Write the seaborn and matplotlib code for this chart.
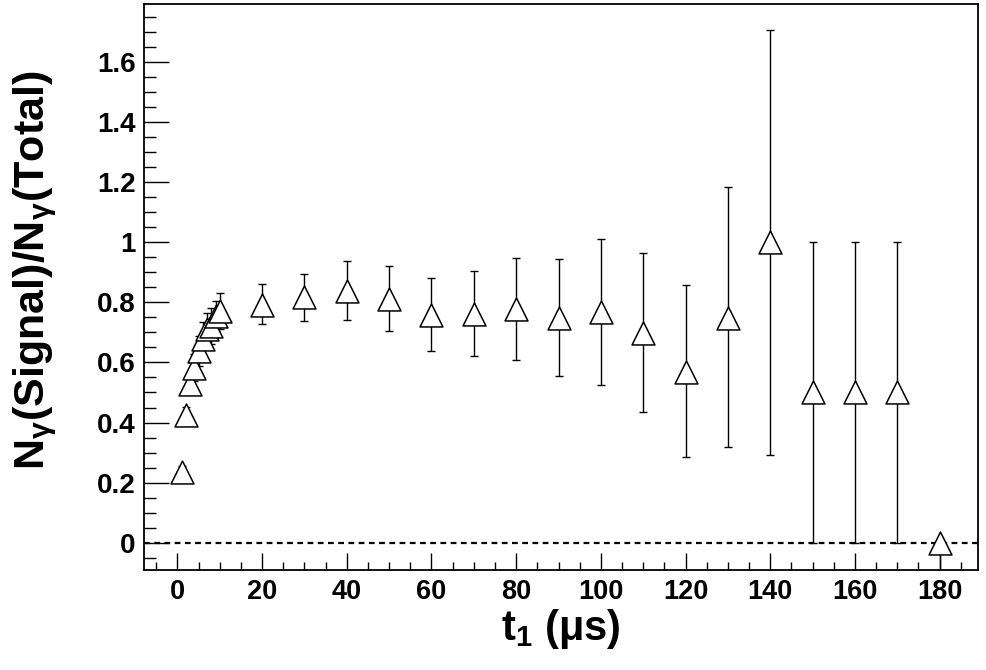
import numpy as np
import pandas as pd
import matplotlib
matplotlib.use("Agg")
import matplotlib.pyplot as plt
from matplotlib.ticker import MultipleLocator, FuncFormatter
import seaborn as sns

# ---- data ----
t_us = [1, 2, 3, 4, 5, 6, 7, 8, 9, 10,
        20, 30, 40, 50, 60, 70, 80, 90, 100,
        110, 120, 130, 140, 150, 160, 170, 180]
ratio = [0.234, 0.426, 0.529, 0.583, 0.638, 0.678, 0.711, 0.722, 0.755, 0.770,
         0.792, 0.816, 0.837, 0.810, 0.758, 0.761, 0.776, 0.748, 0.768,
         0.698, 0.569, 0.748, 1.000, 0.500, 0.500, 0.500, 0.000]
err_up = [0.02, 0.025, 0.035, 0.045, 0.05, 0.055, 0.055, 0.06, 0.05, 0.06,
          0.068, 0.079, 0.099, 0.109, 0.124, 0.143, 0.171, 0.195, 0.243,
          0.266, 0.287, 0.434, 0.705, 0.500, 0.500, 0.500, 0.0]
err_dn = [0.02, 0.025, 0.035, 0.045, 0.05, 0.055, 0.055, 0.06, 0.05, 0.06,
          0.064, 0.077, 0.096, 0.107, 0.121, 0.140, 0.168, 0.192, 0.242,
          0.262, 0.283, 0.431, 0.708, 0.500, 0.500, 0.500, 0.20]

xticks = [0, 20, 40, 60, 80, 100, 120, 140, 160, 180]
yticks = [0, 0.2, 0.4, 0.6, 0.8, 1.0, 1.2, 1.4, 1.6]

df = pd.DataFrame({"t": t_us, "r": ratio})

sns.set_theme(style="ticks")
plt.rcParams["font.family"] = ["Liberation Sans", "DejaVu Sans"]
plt.rcParams["font.weight"] = "bold"
plt.rcParams["mathtext.fontset"] = "custom"
plt.rcParams["mathtext.rm"] = "Liberation Sans"
plt.rcParams["mathtext.it"] = "Liberation Sans"
plt.rcParams["mathtext.bf"] = "Liberation Sans:bold"
for k in ["text.color", "axes.labelcolor", "xtick.color", "ytick.color",
          "axes.edgecolor"]:
    plt.rcParams[k] = "black"

fig = plt.figure(figsize=(9.86, 6.70), dpi=100)
ax = fig.add_axes([0.146, 0.149, 0.9916 - 0.146, 0.994 - 0.149])

ax.set_xlim(-7.9, 189)
ax.set_ylim(-0.091, 1.792)

# zero reference line
ax.axhline(0, color="black", lw=1.6, ls=(0, (2.6, 2.0)), zorder=1)

ax.errorbar(t_us, ratio, yerr=[err_dn, err_up], fmt="none",
            ecolor="black", elinewidth=1.0, capsize=2.6, capthick=1.0,
            zorder=2)
sns.scatterplot(data=df, x="t", y="r", ax=ax, marker="^", s=16.5 ** 2,
                facecolor="white", edgecolor="black", linewidth=1.1,
                zorder=3, legend=False)

ax.set_xticks(xticks)
ax.set_yticks(yticks)
ax.xaxis.set_minor_locator(MultipleLocator(5))
ax.yaxis.set_minor_locator(MultipleLocator(0.05))
ax.yaxis.set_major_formatter(FuncFormatter(lambda v, p: f"{v:g}"))

ax.tick_params(axis="both", which="both", direction="in",
               top=False, right=False, width=1.0, color="black")
ax.tick_params(axis="y", which="major", length=18, labelsize=20, pad=6)
ax.tick_params(axis="y", which="minor", length=8.5)
ax.tick_params(axis="x", which="major", length=12, labelsize=19.5, pad=6)
ax.tick_params(axis="x", which="minor", length=6)
for lab in ax.get_yticklabels() + ax.get_xticklabels():
    lab.set_fontweight("bold")

for sp in ax.spines.values():
    sp.set_visible(True)
    sp.set_linewidth(1.3)
    sp.set_color("black")

ax.set_xlabel(r"t$_{\mathbf{1}}$ ($\mu$s)", fontsize=30, fontweight="bold",
              labelpad=2)
ax.set_ylabel(r"N$_{\gamma}$(Signal)/N$_{\gamma}$(Total)", fontsize=31,
              fontweight="bold")
ax.yaxis.set_label_coords(-0.102, 0.53)

fig.savefig("out.png", dpi=100)
